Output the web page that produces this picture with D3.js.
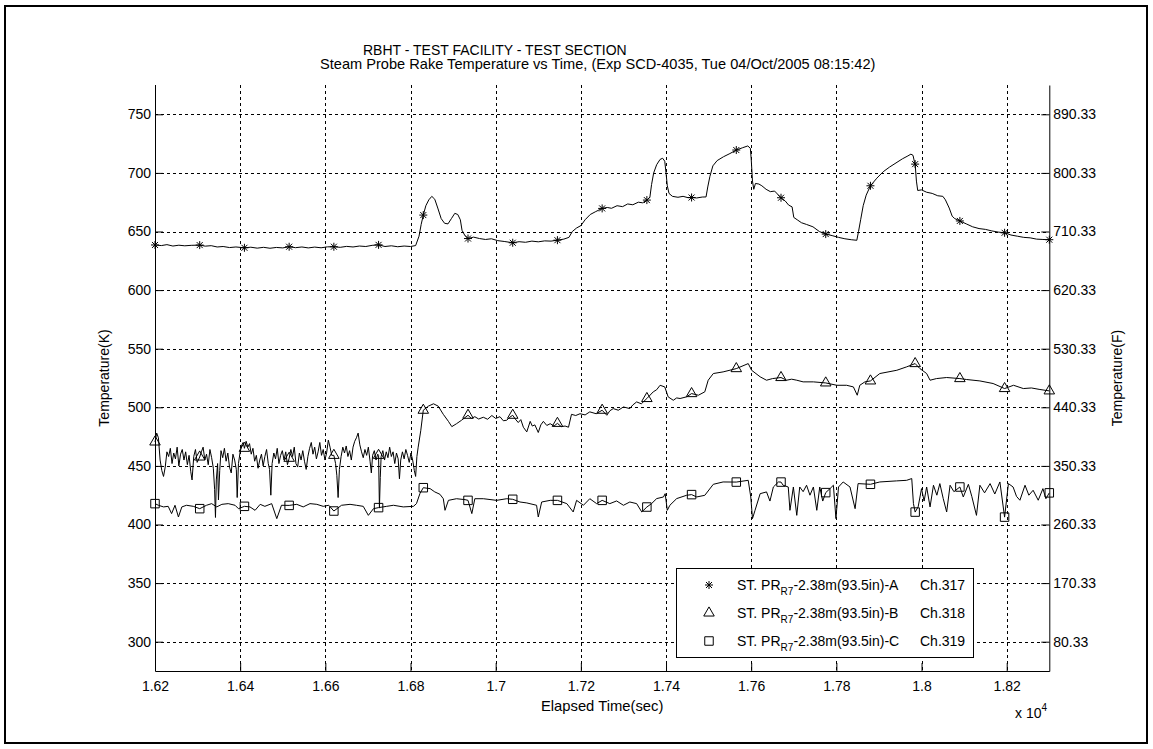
<!DOCTYPE html>
<html><head><meta charset="utf-8">
<script src="https://cdn.jsdelivr.net/npm/d3@7"></script>
<style>
html,body{margin:0;padding:0;background:#fff;}
svg{display:block;font-family:"Liberation Sans",Arial,Helvetica,sans-serif;}
</style></head><body>
<svg id="chart" width="1153" height="749"></svg>
<script>
// ---------- data ----------
const titleLines = ["RBHT - TEST FACILITY - TEST SECTION",
  "Steam Probe Rake Temperature vs Time, (Exp SCD-4035, Tue 04/Oct/2005 08:15:42)"];
const xLabel = "Elapsed Time(sec)";
const yLabelLeft = "Temperature(K)";
const yLabelRight = "Temperature(F)";
const xDomain = [16200, 18300];
const yDomainK = [275, 775];
const xTicks = [16200,16400,16600,16800,17000,17200,17400,17600,17800,18000,18200];
const xTickLabels = ["1.62","1.64","1.66","1.68","1.7","1.72","1.74","1.76","1.78","1.8","1.82"];
const yTicksK = [300,350,400,450,500,550,600,650,700,750];
const yTicksF = [80.33,170.33,260.33,350.33,440.33,530.33,620.33,710.33,800.33,890.33];
const yTickLabelsF = ["80.33","170.33","260.33","350.33","440.33","530.33","620.33","710.33","800.33","890.33"];

const legendNames = ["-2.38m(93.5in)-A","-2.38m(93.5in)-B","-2.38m(93.5in)-C"];
const legendChannels = ["Ch.317","Ch.318","Ch.319"];

const markerTimes = [16200,16305,16410,16515,16620,16725,16830,16935,17040,17145,17250,17355,17460,17565,17670,17775,17880,17985,18090,18195,18300];
const markersA = [638.5,638.4,636.1,637,637,638.6,664,644,640.4,642.6,669.7,676.8,679,719.5,678.8,647.8,689,707.5,659,648.9,643];
const markersB = [470.4,457.6,465,456.5,459,459,497.5,493.2,493.2,486.3,497.5,507.5,511.7,533,525.4,520.8,522.5,537.3,524.5,516,514];
const markersC = [417.8,413.5,415.5,416.3,411.5,414.4,431.4,420.6,421.5,420.6,420.6,414.9,425.5,436.2,436.2,427.2,434.3,410.6,432,406.3,427];

const seriesA = [[16200,638.5],[16215,638],[16228,638.8],[16242,637.6],[16256,638.3],[16270,637.8],[16285,638.2],[16305,638.4],[16318,637.5],[16332,637.9],[16346,636.8],[16360,637.2],[16375,636.3],[16390,636.8],[16410,636.1],[16425,636.6],[16440,635.8],[16455,636.5],[16470,635.7],[16485,636.4],[16500,636],[16515,637],[16530,636.2],[16545,636.8],[16560,636],[16575,636.7],[16590,636.1],[16605,636.9],[16620,637],[16635,636.5],[16650,637.3],[16665,636.8],[16680,637.6],[16695,637.2],[16710,638.2],[16725,638.6],[16740,637.2],[16755,637.8],[16770,637],[16785,637.6],[16800,637.2],[16812,638],[16820,646],[16825,656],[16830,664],[16836,672],[16843,677],[16850,680],[16857,677.5],[16864,670],[16872,661],[16880,657],[16888,656.5],[16896,661],[16904,665.5],[16911,664.5],[16917,660],[16921,651],[16927,647],[16935,644],[16948,645.2],[16962,644],[16976,643.2],[16990,643.8],[17005,642.2],[17020,641.5],[17040,640.4],[17055,641.3],[17070,640.8],[17085,641.8],[17100,641.2],[17115,642],[17130,641.8],[17145,642.6],[17160,643.5],[17172,645],[17180,650],[17190,653],[17200,655],[17210,660],[17222,664.5],[17235,667],[17250,669.7],[17262,670.5],[17272,669.8],[17285,672],[17298,671.2],[17310,673.5],[17322,672.8],[17335,675],[17345,674.5],[17355,676.8],[17362,679],[17366,690],[17371,700],[17378,707],[17386,711.5],[17392,712.5],[17397,710],[17400,700],[17403,689],[17407,682.5],[17415,680],[17428,679.2],[17440,680],[17452,678.8],[17460,679],[17472,678.6],[17485,679.4],[17494,679.5],[17498,688],[17503,697],[17510,706],[17520,710.5],[17535,713.8],[17550,716.5],[17565,719.5],[17580,721.5],[17592,723],[17598,721],[17600,712],[17603,693],[17606,686],[17610,691],[17618,690.5],[17625,689],[17635,686],[17645,684],[17655,684.5],[17670,678.8],[17680,676],[17688,672.5],[17696,671],[17700,662],[17708,660],[17718,657.5],[17730,656],[17745,654],[17760,650],[17775,647.8],[17790,646.5],[17805,645],[17820,643.8],[17835,643],[17848,642.5],[17852,650],[17857,660],[17863,672],[17870,681],[17880,689],[17895,695.5],[17910,701],[17925,705],[17940,708.5],[17955,712],[17968,714.5],[17975,716],[17980,715],[17983,710],[17985,707.5],[17988,693],[17991,685],[18000,685.5],[18012,683.5],[18025,682.5],[18038,680.5],[18050,680],[18056,677],[18065,670],[18072,663],[18078,661],[18090,659],[18105,656.5],[18120,654],[18135,652.5],[18150,651.8],[18165,650.5],[18180,649.5],[18195,648.9],[18210,647],[18225,646],[18240,645],[18255,644.6],[18270,643.5],[18285,643.2],[18300,643]];

const seriesB = [[16200,470.4],[16204,478],[16208,474],[16212,455],[16216,446],[16220,441],[16224,449],[16228,462],[16232,458],[16236,465],[16240,452],[16244,461],[16248,456],[16252,466],[16256,450],[16260,460],[16264,464],[16268,455],[16272,462],[16276,451],[16280,459],[16284,445],[16287,438],[16291,458],[16295,464],[16299,453],[16305,457.6],[16309,462],[16313,466],[16317,455],[16321,460],[16325,451],[16329,464],[16333,457],[16337,448],[16340,430],[16342,406],[16344,438],[16347,452],[16349,421],[16352,446],[16355,463],[16359,457],[16363,465],[16367,454],[16371,461],[16375,449],[16379,444],[16383,460],[16387,455],[16391,447],[16393,423],[16396,452],[16400,462],[16404,468],[16407,470],[16410,465],[16414,471],[16418,466],[16422,469],[16426,460],[16430,465],[16434,454],[16438,459],[16442,448],[16446,455],[16450,460],[16454,450],[16458,458],[16462,464],[16466,452],[16469,447],[16472,425],[16475,452],[16479,461],[16483,456],[16487,465],[16491,452],[16495,459],[16499,463],[16503,455],[16507,462],[16511,451],[16515,456.5],[16519,464],[16523,458],[16527,466],[16531,452],[16535,449],[16539,461],[16543,455],[16547,463],[16551,454],[16555,447],[16559,458],[16563,465],[16567,470],[16571,460],[16575,466],[16579,456],[16583,462],[16587,470],[16591,459],[16595,464],[16599,455],[16603,461],[16607,472],[16611,466],[16615,459],[16620,459],[16624,452],[16627,442],[16630,423],[16633,447],[16637,458],[16641,466],[16645,461],[16649,467],[16653,458],[16657,463],[16661,455],[16665,466],[16669,471],[16673,474],[16677,478],[16681,468],[16685,462],[16689,457],[16693,464],[16697,459],[16701,466],[16705,454],[16708,444],[16711,459],[16715,463],[16719,455],[16723,460],[16725,459],[16727,414],[16729,440],[16731,458],[16735,463],[16739,455],[16743,462],[16747,457],[16751,466],[16755,458],[16759,462],[16763,452],[16767,461],[16771,456],[16774,439],[16777,455],[16781,462],[16785,456],[16789,464],[16793,459],[16797,453],[16801,461],[16805,455],[16809,446],[16812,441],[16815,458],[16818,466],[16824,480],[16830,497.5],[16842,501],[16854,503],[16865,501],[16877,494],[16889,488],[16897,483.5],[16908,486],[16920,489],[16935,493.2],[16943,490.5],[16951,492],[16960,490],[16971,491.5],[16981,489.8],[16991,493],[17000,490.5],[17010,492],[17018,488.5],[17026,489],[17033,491.5],[17040,493.2],[17046,490],[17053,487],[17059,489.5],[17065,483],[17073,479],[17081,488],[17086,484],[17092,485],[17100,478.5],[17106,485],[17112,488],[17120,484.5],[17128,486],[17137,484],[17145,486.3],[17154,483.5],[17163,484],[17171,483],[17178,494],[17188,493],[17198,494.5],[17210,493.5],[17221,496.1],[17236,494.5],[17250,497.5],[17261,493.2],[17268,497],[17276,498.9],[17288,497.5],[17300,500.3],[17315,498.9],[17322,502],[17331,504.6],[17342,503],[17355,507.5],[17370,513.2],[17378,515],[17386,518.8],[17397,517.4],[17405,508.9],[17417,506],[17425,508],[17433,507.5],[17448,508.9],[17460,511.7],[17476,510.3],[17491,513.2],[17499,523.1],[17511,528.8],[17534,530.2],[17565,533],[17593,537.3],[17601,531.6],[17621,526],[17636,523.1],[17650,524.5],[17670,525.4],[17683,523.1],[17695,524],[17707,523.1],[17722,521.7],[17746,521.7],[17775,520.8],[17801,518.8],[17824,518.8],[17840,517.4],[17849,510.3],[17855,518.8],[17867,521.7],[17880,522.5],[17902,528.8],[17942,531.6],[17965,534.5],[17985,537.3],[17996,533.1],[18012,528.8],[18020,523.1],[18035,524.5],[18059,525.4],[18090,524.5],[18106,523.7],[18137,522.5],[18168,520.3],[18195,516],[18216,518.8],[18239,516],[18258,516.5],[18278,515.2],[18300,514]];

const seriesC = [[16200,417.8],[16208,416.4],[16220,415],[16231,415.5],[16239,409.3],[16247,416.4],[16255,406.4],[16263,415],[16274,416.4],[16290,415.5],[16305,413.5],[16321,416.4],[16333,417.8],[16345,415],[16357,417.2],[16372,417.8],[16388,416.4],[16396,413.5],[16410,415.5],[16423,415],[16435,412.1],[16447,417.2],[16458,415.5],[16474,417.8],[16486,405],[16497,416.4],[16515,416.3],[16533,417.2],[16548,415],[16564,417.8],[16580,417.2],[16595,415.5],[16608,416.4],[16620,411.5],[16638,416.4],[16658,417.2],[16673,416.4],[16689,415.5],[16701,407.8],[16713,413.5],[16725,414.4],[16744,415.5],[16760,416.4],[16783,415],[16807,415.5],[16814,417.8],[16822,426.3],[16830,431.4],[16846,430.6],[16857,427.8],[16869,425.8],[16877,422],[16881,412.1],[16889,420.6],[16908,422],[16928,421.2],[16935,420.6],[16944,409.3],[16951,422],[16971,422],[17002,420.6],[17026,422],[17040,421.5],[17057,419.2],[17073,418.4],[17096,416.4],[17100,406.4],[17108,419.2],[17128,420.6],[17145,420.6],[17167,417.8],[17182,410.7],[17190,420.6],[17206,416.4],[17221,422],[17237,417.8],[17250,420.6],[17268,417.8],[17284,420.1],[17300,416.4],[17315,419.2],[17331,417.8],[17343,410.7],[17355,414.9],[17366,417.8],[17378,422.1],[17394,423.5],[17398,426.3],[17403,412.1],[17409,416.4],[17425,422.1],[17448,424.9],[17460,425.5],[17472,423.5],[17491,424.9],[17511,434.3],[17534,436.3],[17565,436.2],[17593,437.7],[17599,423.5],[17603,405],[17609,412.1],[17621,426.3],[17636,427.8],[17644,420],[17652,432],[17664,436.3],[17670,436.2],[17675,433.5],[17687,432],[17691,412.1],[17699,432],[17707,407.8],[17714,432],[17722,428],[17730,433.5],[17738,425],[17746,432],[17754,412.1],[17761,432],[17768,420],[17775,427.2],[17785,430.6],[17793,433.5],[17799,405],[17805,432],[17816,436.3],[17832,432],[17844,413.5],[17851,434.9],[17880,434.3],[17902,436.3],[17941,437.2],[17965,437.7],[17977,439.2],[17981,417.8],[17985,410.6],[17992,415],[18000,430.6],[18006,420],[18012,432],[18020,415],[18028,433.5],[18036,425],[18043,434.9],[18051,422],[18059,410.7],[18067,433.5],[18076,428],[18090,432],[18098,423.5],[18110,434.3],[18118,424],[18129,407.8],[18137,433.5],[18148,427],[18161,434.9],[18172,426],[18184,436.3],[18195,406.3],[18204,434.9],[18215,432],[18223,424],[18231,420.7],[18243,433.5],[18252,425],[18262,429.2],[18274,420.7],[18285,430.6],[18292,422],[18300,427]];

// ---------- drawing ----------
const W = 1153, H = 749;
const M = {left:155, right:1049.3, top:85, bottom:671};
const FONT = 14;
const svg = d3.select("#chart");
svg.append("rect").attr("width",W).attr("height",H).attr("fill","#fff");
svg.append("rect").attr("x",5).attr("y",6).attr("width",1142).attr("height",737)
  .attr("fill","none").attr("stroke","#000").attr("stroke-width",2);

const x = d3.scaleLinear().domain(xDomain).range([M.left, M.right]);
const y = d3.scaleLinear().domain(yDomainK).range([M.bottom, M.top]);
const yF = d3.scaleLinear().domain(yDomainK.map(k => k*1.8 - 459.67)).range([M.bottom, M.top]);

// grid
const grid = svg.append("g").attr("stroke","#000").attr("stroke-width",1).attr("stroke-dasharray","3,3");
grid.selectAll("line.v").data(xTicks).join("line").attr("class","v")
  .attr("x1",d=>Math.round(x(d))+0.5).attr("x2",d=>Math.round(x(d))+0.5)
  .attr("y1",M.top).attr("y2",M.bottom);
grid.selectAll("line.h").data(yTicksK).join("line").attr("class","h")
  .attr("y1",d=>Math.round(y(d))+0.5).attr("y2",d=>Math.round(y(d))+0.5)
  .attr("x1",M.left).attr("x2",M.right);

function styleAxis(g){
  g.attr("font-family",null).attr("font-size",FONT);
  g.selectAll("path.domain").attr("stroke","#000");
  g.selectAll(".tick line").attr("stroke","#000");
  g.selectAll("text").attr("fill","#000");
}
svg.append("g").attr("transform",`translate(0,${M.bottom})`)
  .call(d3.axisBottom(x).tickValues(xTicks).tickFormat((d,i)=>xTickLabels[i])
    .tickSizeInner(-8).tickSizeOuter(0).tickPadding(10))
  .call(styleAxis);
svg.append("g").attr("transform",`translate(${M.left},0)`)
  .call(d3.axisLeft(y).tickValues(yTicksK).tickSizeInner(-8).tickSizeOuter(0).tickPadding(4))
  .call(styleAxis);
svg.append("g").attr("transform",`translate(${M.right},0)`)
  .call(d3.axisRight(yF).tickValues(yTicksF).tickFormat((d,i)=>yTickLabelsF[i])
    .tickSizeInner(-8).tickSizeOuter(0).tickPadding(4))
  .call(styleAxis);

// lines
const line = d3.line().x(d=>x(d[0])).y(d=>y(d[1]));
[seriesA, seriesB, seriesC].forEach(s => {
  svg.append("path").datum(s).attr("d",line)
    .attr("fill","none").attr("stroke","#000").attr("stroke-width",1).attr("stroke-linejoin","round");
});

// markers
const starPath = "M-4,0H4M0,-4V4M-3,-3L3,3M-3,3L3,-3";
const triPath = d3.symbol(d3.symbolTriangle, 48)();
const sqPath = d3.symbol(d3.symbolSquare, 72)();
const markerShapes = [starPath, triPath, sqPath];
const markerSets = [markersA, markersB, markersC];
markerSets.forEach((vals, si) => {
  svg.append("g").selectAll("path").data(vals).join("path")
    .attr("transform",(d,i)=>`translate(${x(markerTimes[i])},${y(d)})`)
    .attr("d", markerShapes[si])
    .attr("fill","none").attr("stroke","#000").attr("stroke-width",1);
});

// titles
svg.append("text").attr("x",363).attr("y",54.5).attr("font-size",FONT).attr("fill","#000").text(titleLines[0]);
svg.append("text").attr("x",320).attr("y",68.5).attr("font-size",14.6).attr("fill","#000").text(titleLines[1]);

// axis labels
svg.append("text").attr("x",(M.left+M.right)/2).attr("y",711).attr("text-anchor","middle")
  .attr("font-size",14.8).attr("fill","#000").text(xLabel);
svg.append("text").attr("transform",`translate(109,${(M.top+M.bottom)/2}) rotate(-90)`)
  .attr("text-anchor","middle").attr("font-size",FONT).attr("fill","#000").text(yLabelLeft);
svg.append("text").attr("transform",`translate(1122,${(M.top+M.bottom)/2}) rotate(-90)`)
  .attr("text-anchor","middle").attr("font-size",FONT).attr("fill","#000").text(yLabelRight);
const expo = svg.append("text").attr("x",1015).attr("y",718).attr("font-size",FONT).attr("fill","#000");
expo.append("tspan").text("x 10");
expo.append("tspan").attr("dy",-7).attr("font-size",10).text("4");

// legend
const lg = svg.append("g");
lg.append("rect").attr("x",676.5).attr("y",568.5).attr("width",297).attr("height",89)
  .attr("fill","#fff").attr("stroke","#000").attr("stroke-width",1);
legendNames.forEach((nm,i)=>{
  const cy = 585 + i*28;
  lg.append("path").attr("transform",`translate(709,${cy})`).attr("d",markerShapes[i])
    .attr("fill","none").attr("stroke","#000");
  const t = lg.append("text").attr("x",737).attr("y",cy+5).attr("font-size",FONT).attr("fill","#000");
  t.append("tspan").text("ST. PR");
  t.append("tspan").attr("dy",5).attr("font-size",10).text("R7");
  t.append("tspan").attr("dy",-5).text(nm);
  t.append("tspan").attr("x",920).text(legendChannels[i]);
});
</script>
</body></html>
